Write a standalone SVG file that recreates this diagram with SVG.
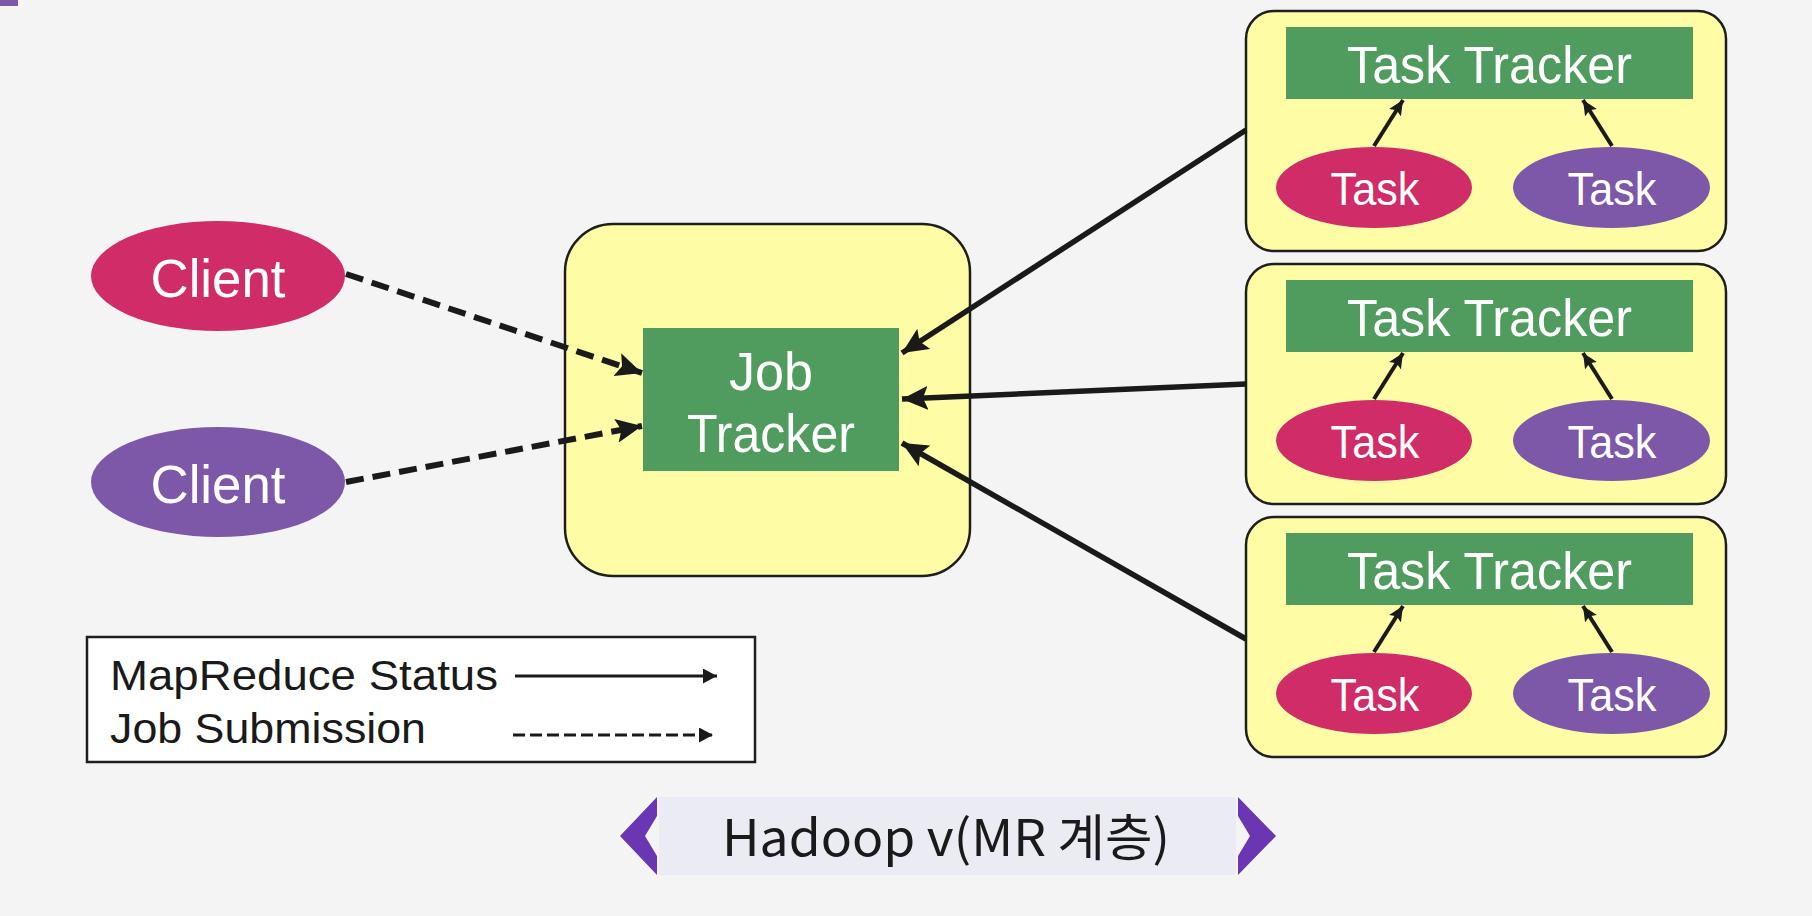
<svg xmlns="http://www.w3.org/2000/svg" width="1812" height="916" viewBox="0 0 1812 916">
<style>
.lbl{font-family:"Liberation Sans",Arial,sans-serif;fill:#ffffff;text-anchor:middle}
.dark{font-family:"Liberation Sans",Arial,sans-serif;fill:#1a1a1a}
.kr{font-family:"Noto Sans CJK KR","Liberation Sans",sans-serif;fill:#1a1a1a}
.box{fill:#fefca4;stroke:#1e1e1e;stroke-width:2.5}
.green{fill:#4f9c5e}
.red{fill:#cf2c68}
.purple{fill:#7d57a8}
.solid{stroke:#1a1a1a;stroke-width:5.5;fill:none}
.dash{stroke:#1a1a1a;stroke-width:6;fill:none;stroke-dasharray:18 9}
.thin{stroke:#1a1a1a;stroke-width:3;fill:none}
.tarrow{stroke:#1a1a1a;stroke-width:4;fill:none}
</style>
<defs>
<marker id="big" markerUnits="userSpaceOnUse" markerWidth="28" markerHeight="24" refX="26" refY="12" orient="auto">
<path d="M0,0 L26,12 L0,24 L5,12 z" fill="#1a1a1a"/>
</marker>
<marker id="small" markerUnits="userSpaceOnUse" markerWidth="16" markerHeight="14" refX="15" refY="7" orient="auto">
<path d="M0,0 L15,7 L0,14 L3,7 z" fill="#1a1a1a"/>
</marker>
<marker id="leg" markerUnits="userSpaceOnUse" markerWidth="15" markerHeight="15" refX="14" refY="7.5" orient="auto">
<path d="M0,0 L14,7.5 L0,15 z" fill="#1a1a1a"/>
</marker>
</defs>
<rect x="0" y="0" width="1812" height="916" fill="#f4f4f4"/>
<rect x="0" y="0" width="18" height="6" fill="#7d57a8"/>

<g id="jobtracker">
<rect class="box" x="565" y="224" width="405" height="352" rx="48"/>
<rect class="green" x="643" y="328" width="256" height="143"/>
<text class="lbl" x="771" y="390" font-size="53" textLength="84" lengthAdjust="spacingAndGlyphs">Job</text>
<text class="lbl" x="771" y="452" font-size="53" textLength="168" lengthAdjust="spacingAndGlyphs">Tracker</text>
</g>

<g id="client1">
<ellipse class="red" cx="218" cy="276" rx="127" ry="55"/>
<text class="lbl" x="218" y="297" font-size="54" textLength="135" lengthAdjust="spacingAndGlyphs">Client</text>
</g>
<g id="client2">
<ellipse class="purple" cx="218" cy="482" rx="127" ry="55"/>
<text class="lbl" x="218" y="503" font-size="54" textLength="135" lengthAdjust="spacingAndGlyphs">Client</text>
</g>

<g id="tasktracker1">
<rect class="box" x="1246" y="11" width="480" height="240" rx="28"/>
<rect class="green" x="1286" y="27" width="407" height="72"/>
<text class="lbl" x="1489.5" y="83" font-size="51" textLength="285" lengthAdjust="spacingAndGlyphs">Task Tracker</text>
<ellipse class="red" cx="1374" cy="187.5" rx="98" ry="40.5"/>
<text class="lbl" x="1375" y="205" font-size="46" textLength="89" lengthAdjust="spacingAndGlyphs">Task</text>
<ellipse class="purple" cx="1611.5" cy="187.5" rx="98.5" ry="40.5"/>
<text class="lbl" x="1612" y="205" font-size="46" textLength="89" lengthAdjust="spacingAndGlyphs">Task</text>
<line class="tarrow" x1="1374" y1="146" x2="1403" y2="100" marker-end="url(#small)"/>
<line class="tarrow" x1="1612" y1="146" x2="1583" y2="100" marker-end="url(#small)"/>
</g>

<g id="tasktracker2">
<rect class="box" x="1246" y="264" width="480" height="240" rx="28"/>
<rect class="green" x="1286" y="280" width="407" height="72"/>
<text class="lbl" x="1489.5" y="336" font-size="51" textLength="285" lengthAdjust="spacingAndGlyphs">Task Tracker</text>
<ellipse class="red" cx="1374" cy="440.5" rx="98" ry="40.5"/>
<text class="lbl" x="1375" y="458" font-size="46" textLength="89" lengthAdjust="spacingAndGlyphs">Task</text>
<ellipse class="purple" cx="1611.5" cy="440.5" rx="98.5" ry="40.5"/>
<text class="lbl" x="1612" y="458" font-size="46" textLength="89" lengthAdjust="spacingAndGlyphs">Task</text>
<line class="tarrow" x1="1374" y1="399" x2="1403" y2="353" marker-end="url(#small)"/>
<line class="tarrow" x1="1612" y1="399" x2="1583" y2="353" marker-end="url(#small)"/>
</g>

<g id="tasktracker3">
<rect class="box" x="1246" y="517" width="480" height="240" rx="28"/>
<rect class="green" x="1286" y="533" width="407" height="72"/>
<text class="lbl" x="1489.5" y="589" font-size="51" textLength="285" lengthAdjust="spacingAndGlyphs">Task Tracker</text>
<ellipse class="red" cx="1374" cy="693.5" rx="98" ry="40.5"/>
<text class="lbl" x="1375" y="711" font-size="46" textLength="89" lengthAdjust="spacingAndGlyphs">Task</text>
<ellipse class="purple" cx="1611.5" cy="693.5" rx="98.5" ry="40.5"/>
<text class="lbl" x="1612" y="711" font-size="46" textLength="89" lengthAdjust="spacingAndGlyphs">Task</text>
<line class="tarrow" x1="1374" y1="652" x2="1403" y2="606" marker-end="url(#small)"/>
<line class="tarrow" x1="1612" y1="652" x2="1583" y2="606" marker-end="url(#small)"/>
</g>

<g id="connectors">
<line class="dash" x1="346" y1="274" x2="642" y2="373" marker-end="url(#big)"/>
<line class="dash" x1="346" y1="482" x2="642" y2="426" marker-end="url(#big)"/>
<line class="solid" x1="1246" y1="130" x2="902" y2="353" marker-end="url(#big)"/>
<line class="solid" x1="1246" y1="384" x2="902" y2="399" marker-end="url(#big)"/>
<line class="solid" x1="1246" y1="639" x2="902" y2="443" marker-end="url(#big)"/>
</g>

<g id="legend">
<rect x="87" y="637" width="668" height="125" fill="#ffffff" stroke="#1e1e1e" stroke-width="2.5"/>
<text class="dark" x="110" y="690" font-size="42" textLength="388" lengthAdjust="spacingAndGlyphs">MapReduce Status</text>
<text class="dark" x="110" y="743" font-size="42" textLength="316" lengthAdjust="spacingAndGlyphs">Job Submission</text>
<line class="thin" x1="515" y1="676" x2="717" y2="676" marker-end="url(#leg)"/>
<line class="thin" x1="513" y1="735" x2="713" y2="735" stroke-dasharray="12 5" marker-end="url(#leg)"/>
</g>

<g id="banner">
<rect x="659" y="797" width="577" height="78" fill="#ebebf3"/>
<polygon points="657,797 620,836 657,875 657,856 645,836 657,816" fill="#6a36b2"/>
<polygon points="1238,797 1276,836 1238,875 1238,856 1250,836 1238,816" fill="#6a36b2"/>
<text class="kr" x="722" y="856" font-size="50" textLength="448" lengthAdjust="spacingAndGlyphs">Hadoop v(MR 계층)</text>
</g>
</svg>
